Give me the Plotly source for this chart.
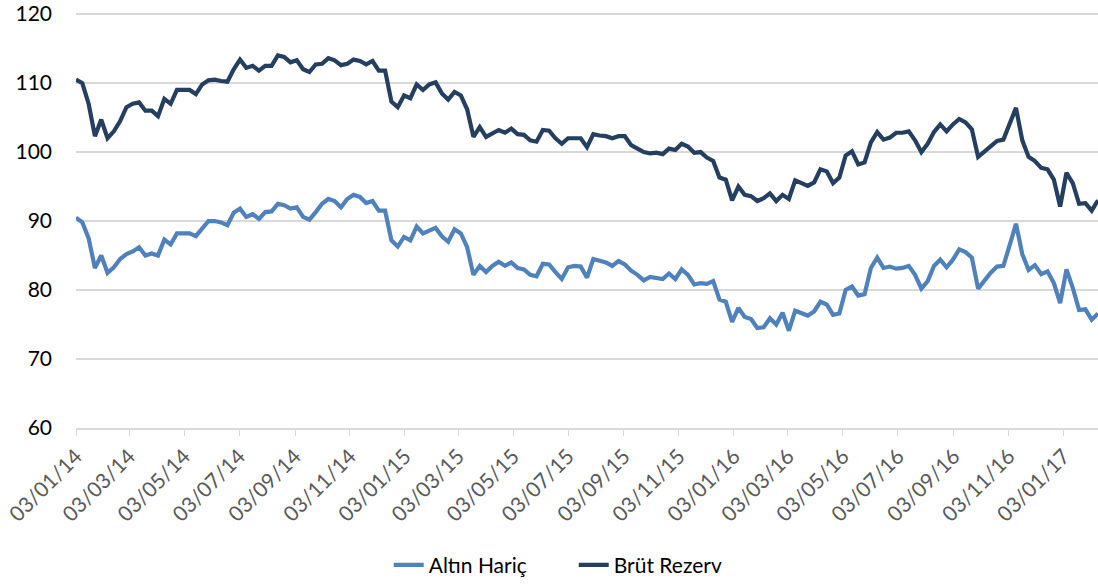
import pandas as pd
import plotly.graph_objects as go

start_date = "2014-01-03"

brut_rezerv = [
    110.5, 110.0, 107.0, 102.3, 104.7, 102.0, 103.0, 104.5, 106.5, 107.0,
    107.2, 106.0, 106.0, 105.2, 107.7, 107.0, 109.0, 109.0, 109.0, 108.4,
    109.8, 110.4, 110.5, 110.3, 110.2, 112.0, 113.4, 112.2, 112.5, 111.8,
    112.5, 112.5, 114.0, 113.8, 113.0, 113.3, 112.0, 111.6, 112.7, 112.8,
    113.6, 113.3, 112.6, 112.8, 113.4, 113.2, 112.7, 113.2, 111.8, 111.8,
    107.3, 106.5, 108.2, 107.8, 109.8, 109.0, 109.8, 110.1, 108.5, 107.6,
    108.7, 108.2, 106.2, 102.2, 103.6, 102.2, 102.7, 103.2, 102.8, 103.4,
    102.6, 102.5, 101.7, 101.5, 103.2, 103.1, 102.0, 101.2, 102.0, 102.0,
    102.0, 100.7, 102.6, 102.4, 102.3, 102.0, 102.3, 102.3, 101.0, 100.5,
    100.0, 99.8, 99.9, 99.7, 100.5, 100.3, 101.2, 100.8, 99.9, 100.0,
    99.2, 98.7, 96.3, 96.0, 93.0, 95.0, 93.8, 93.6, 92.9, 93.3,
    94.0, 92.9, 93.8, 93.2, 95.9, 95.5, 95.1, 95.6, 97.5, 97.2,
    95.5, 96.3, 99.5, 100.1, 98.2, 98.5, 101.4, 102.9, 101.8, 102.1,
    102.8, 102.8, 103.0, 101.7, 100.0, 101.2, 102.9, 104.0, 103.0, 104.0,
    104.8, 104.3, 103.3, 99.3, 100.1, 101.0, 101.6, 101.8, 104.0, 106.4,
    101.7, 99.3, 98.7, 97.7, 97.5, 96.0, 92.1, 97.0, 95.5, 92.5,
    92.6, 91.5, 93.0,
]

altin_haric = [
    90.5, 89.8, 87.5, 83.2, 85.0, 82.5, 83.3, 84.5, 85.2, 85.6,
    86.2, 85.0, 85.3, 85.0, 87.3, 86.6, 88.2, 88.2, 88.2, 87.8,
    89.0, 90.0, 90.0, 89.8, 89.4, 91.2, 91.8, 90.6, 91.0, 90.3,
    91.3, 91.4, 92.5, 92.3, 91.8, 92.0, 90.6, 90.2, 91.3, 92.5,
    93.2, 92.9, 92.0, 93.2, 93.8, 93.5, 92.6, 92.9, 91.5, 91.5,
    87.2, 86.3, 87.7, 87.2, 89.2, 88.2, 88.6, 89.0, 87.8, 87.0,
    88.8, 88.2, 86.2, 82.2, 83.5, 82.6, 83.5, 84.1, 83.5, 84.0,
    83.2, 83.0, 82.2, 82.0, 83.8, 83.7, 82.6, 81.6, 83.3, 83.5,
    83.4, 81.8, 84.5, 84.3, 84.0, 83.5, 84.2, 83.7, 82.8, 82.2,
    81.4, 81.9, 81.7, 81.6, 82.4, 81.6, 83.0, 82.2, 80.8, 81.0,
    80.9, 81.3, 78.6, 78.3, 75.4, 77.4, 76.1, 75.8, 74.5, 74.6,
    75.9, 75.0, 76.7, 74.1, 77.0, 76.6, 76.3, 76.9, 78.3, 77.9,
    76.4, 76.6, 80.0, 80.5, 79.2, 79.4, 83.2, 84.7, 83.2, 83.4,
    83.1, 83.2, 83.5, 82.2, 80.2, 81.3, 83.5, 84.4, 83.3, 84.4,
    85.9, 85.5, 84.7, 80.2, 81.4, 82.5, 83.4, 83.5, 86.5, 89.6,
    85.2, 82.9, 83.6, 82.3, 82.7, 81.0, 78.1, 83.0, 80.3, 77.1,
    77.2, 75.7, 76.6,
]

y_ticks = [60, 70, 80, 90, 100, 110, 120]

dates = pd.date_range(start=start_date, periods=len(brut_rezerv), freq="7D")

series_names = ["Altın Hariç", "Brüt Rezerv"]
series_colors = ["#4F81BD", "#243F60"]

fig = go.Figure()
for name, vals, col in zip(series_names, [altin_haric, brut_rezerv], series_colors):
    fig.add_trace(go.Scatter(
        x=dates, y=vals, mode="lines", name=name,
        line=dict(color=col, width=4.2),
    ))

fig.update_layout(
    width=1098, height=586,
    margin=dict(l=76, r=0, t=10, b=157),
    paper_bgcolor="white", plot_bgcolor="white",
    font=dict(family="Lato, 'Open Sans', sans-serif", size=21, color="#000000"),
    showlegend=True,
    legend=dict(
        orientation="h", x=0.306, xanchor="left", y=-0.33, yanchor="middle",
        font=dict(size=21, color="#000000"), entrywidth=140, entrywidthmode="pixels",
    ),
)
fig.update_xaxes(
    type="date",
    range=[dates[0], dates[-1]],
    tick0=start_date, dtick="M2", tickformat="%d/%m/%y",
    tickangle=-45, tickfont=dict(size=21, color="#595959"),
    showgrid=False, showline=True, linecolor="#D9D9D9", linewidth=1.5,
    ticks="outside", ticklen=6, tickcolor="#D9D9D9",
    zeroline=False,
)
fig.update_yaxes(
    range=[60, 120.3], tickmode="array", tickvals=y_ticks,
    showgrid=True, gridcolor="#D9D9D9", gridwidth=1.5,
    tickfont=dict(size=21, color="#000000"),
    ticks="", ticklabelstandoff=23, ticklabeloverflow="allow",
    zeroline=False, showline=False,
)

fig.write_html("out.html")
